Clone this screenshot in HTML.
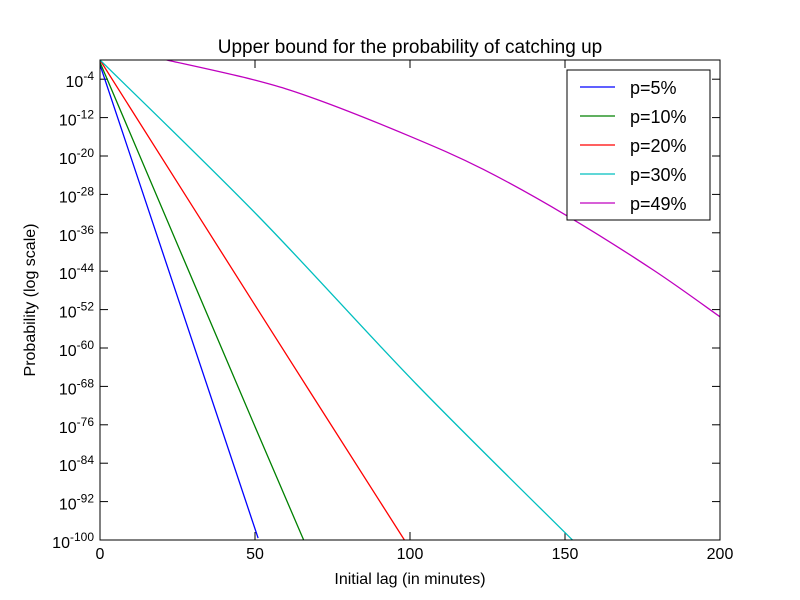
<!DOCTYPE html>
<html><head><meta charset="utf-8"><style>
body{margin:0;background:#fff;}
svg{display:block;font-family:"Liberation Sans","DejaVu Sans",sans-serif;}
</style></head><body>
<svg id="chart" width="800" height="600">
<defs><clipPath id="clip"><rect x="100" y="60" width="620" height="480"/></clipPath></defs>
<rect width="800" height="600" fill="#fff"/>
<text x="410" y="53" font-size="19" text-anchor="middle">Upper bound for the probability of catching up</text>
<text x="410" y="584" font-size="16" text-anchor="middle">Initial lag (in minutes)</text>
<text transform="translate(35,300) rotate(-90)" font-size="16" text-anchor="middle">Probability (log scale)</text>
<g id="ticks"></g>
<g id="series" clip-path="url(#clip)"></g>
<rect x="100" y="60" width="620" height="480" fill="none" stroke="#000" stroke-width="1"/>
<g id="legend"><rect x="567" y="70" width="143" height="150" fill="#fff" stroke="#000"/></g>
</svg>
<script>
const xTicks=[0,50,100,150,200];
const yTicks=[-100,-92,-84,-76,-68,-60,-52,-44,-36,-28,-20,-12,-4];
const seriesNames=["p=5%","p=10%","p=20%","p=30%","p=49%"];
const seriesColors=["#0000ff","#008000","#ff0000","#00bfbf","#bf00bf"];
const x5=[0,51], y5=[-1,-99.6];
const x10=[0,51,65.7], y10=[-0.5,-77.9,-100];
const x20=[0,51,98.2], y20=[0,-52.1,-100];
const x30=[0,51,102,152.4], y30=[0,-32.5,-67.5,-100];
const x49=[21.5,50,69.9,100,123.7,150.5,178.6,200], y49=[0,-4.2,-8.2,-15.9,-22.8,-32.4,-43.8,-53.5];
const xs=[x5,x10,x20,x30,x49], ys=[y5,y10,y20,y30,y49];
const NS="http://www.w3.org/2000/svg";
const sx=v=>100+v*620/200, sy=v=>540-(v+100)*4.8;
const tg=document.getElementById('ticks');
function mk(t,a,p){const e=document.createElementNS(NS,t);for(const k in a)e.setAttribute(k,a[k]);p.appendChild(e);return e;}
xTicks.forEach(v=>{
 const x=sx(v);
 mk('line',{x1:x,x2:x,y1:540,y2:532,stroke:'#000'},tg);
 mk('line',{x1:x,x2:x,y1:60,y2:68,stroke:'#000'},tg);
 const t=mk('text',{x:x,y:559,'font-size':16,'text-anchor':'middle'},tg);
 t.textContent=v;
 
 
});
yTicks.forEach(v=>{
 const y=sy(v);
 mk('line',{x1:100,x2:108,y1:y,y2:y,stroke:'#000'},tg);
 mk('line',{x1:720,x2:712,y1:y,y2:y,stroke:'#000'},tg);
 const t=mk('text',{x:94,y:y+8,'font-size':16,'text-anchor':'end'},tg);
 
 
 const a=document.createElementNS(NS,'tspan');a.textContent='10';t.appendChild(a);
 const b=document.createElementNS(NS,'tspan');b.setAttribute('dy','-7');b.setAttribute('font-size','12');b.textContent=v;t.appendChild(b);
});
const sg=document.getElementById('series');
xs.forEach((X,i)=>{
 const P=X.map((v,j)=>[sx(v),sy(ys[i][j])]);
 let d='M'+P[0][0]+','+P[0][1];
 for(let k=0;k<P.length-1;k++){
  const p0=P[Math.max(k-1,0)],p1=P[k],p2=P[k+1],p3=P[Math.min(k+2,P.length-1)];
  const c1=[p1[0]+(p2[0]-p0[0])/6,p1[1]+(p2[1]-p0[1])/6];
  const c2=[p2[0]-(p3[0]-p1[0])/6,p2[1]-(p3[1]-p1[1])/6];
  d+=' C'+c1[0]+','+c1[1]+' '+c2[0]+','+c2[1]+' '+p2[0]+','+p2[1];
 }
 const p=mk('path',{d:d,fill:'none',stroke:seriesColors[i],'stroke-width':1.3},sg);
 
 
});
const lg=document.getElementById('legend');
seriesNames.forEach((n,i)=>{
 const y=87+i*29;
 mk('line',{x1:580,x2:615,y1:y,y2:y,stroke:seriesColors[i],'stroke-width':1.3},lg);
 const t=mk('text',{x:630,y:y+7,'font-size':18},lg);
 t.textContent=n;
 
 
});
</script>
</body></html>
